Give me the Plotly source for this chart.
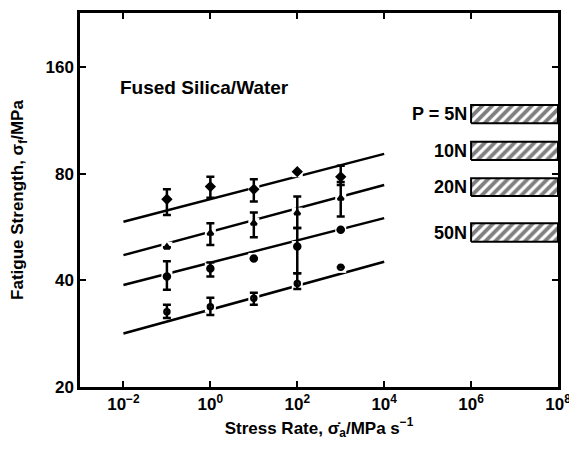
import math
import plotly.graph_objects as go

# ---------------- data ----------------
stress_rate = [0.1, 1, 10, 100, 1000]

s5_y = [67.7, 73.5, 72.2, 81.0, 78.3]
s5_plus = [4.5, 4.9, 4.9, None, 5.9]
s5_minus = [6.6, 5.1, 5.5, None, 4.0]

s10_y = [49.6, 54.3, 57.9, 61.9, 68.1]
s10_plus = [None, 3.6, 4.2, 7.0, 7.6]
s10_minus = [None, 4.0, 5.0, 5.7, 7.6]

s20_y = [41.0, 43.2, 46.1, 49.8, 55.5]
s20_plus = [4.3, 1.7, None, 6.4, None]
s20_minus = [3.4, 2.2, None, 7.9, None]

s50_y = [32.6, 33.7, 35.6, 39.2, 43.5]
s50_plus = [1.5, 2.0, 1.3, 2.7, None]
s50_minus = [1.3, 1.8, 1.5, 1.4, None]

fit_x = [1e-2, 1e4]
fit_5 = [58.5, 90.9]
fit_10 = [47.1, 74.3]
fit_20 = [38.8, 59.9]
fit_50 = [28.3, 45.1]

inert_x = [1e6, 1e8]
inert_labels = ["P = 5N", "10N", "20N", "50N"]
inert_low = [110.9, 87.4, 69.2, 51.4]
inert_high = [124.9, 98.4, 77.6, 57.9]

x_tickvals = [1e-2, 1e0, 1e2, 1e4, 1e6, 1e8]
x_ticktext = ["10<sup>−2</sup>", "10<sup>0</sup>", "10<sup>2</sup>",
              "10<sup>4</sup>", "10<sup>6</sup>", "10<sup>8</sup>"]
y_tickvals = [20, 40, 80, 160]
y_ticktext = ["20", "40", "80", "160"]

# ---------------- figure ----------------
FONT = "Liberation Sans"
fig = go.Figure()

fits = [fit_5, fit_10, fit_20, fit_50]
for f in fits:
    fig.add_trace(go.Scatter(x=fit_x, y=f, mode="lines",
                             line=dict(color="black", width=2.5),
                             showlegend=False, hoverinfo="skip"))

series = [
    (s5_y, s5_plus, s5_minus, "diamond", 6),
    (s10_y, s10_plus, s10_minus, "triangle-up", 5),
    (s20_y, s20_plus, s20_minus, "circle", 6),
    (s50_y, s50_plus, s50_minus, "circle-open", 5),
]

# white masks that break the fitted lines around data points
for ys, _, _, _, _ in series:
    fig.add_trace(go.Scatter(x=stress_rate, y=ys, mode="markers",
                             marker=dict(symbol="square", size=11, color="white"),
                             showlegend=False, hoverinfo="skip"))

for ys, plus, minus, sym, sz in series:
    fig.add_trace(go.Scatter(
        x=stress_rate, y=ys, mode="markers",
        marker=dict(symbol=sym, size=sz, color="black",
                    line=dict(color="black", width=2.5)),
        error_y=dict(type="data", symmetric=False, array=plus, arrayminus=minus,
                     color="black", thickness=2.5, width=4),
        showlegend=False))

# hatched inert-strength bars
for lo, hi, lab in zip(inert_low, inert_high, inert_labels):
    fig.add_trace(go.Scatter(
        x=[inert_x[0], inert_x[1], inert_x[1], inert_x[0], inert_x[0]],
        y=[lo, lo, hi, hi, lo], mode="lines", fill="toself",
        line=dict(color="black", width=2),
        fillcolor="white",
        fillpattern=dict(shape="/", fgcolor="black", bgcolor="white",
                         size=7, solidity=0.55),
        showlegend=False, hoverinfo="skip"))
    fig.add_annotation(x=math.log10(inert_x[0]) - 0.04,
                       y=math.log10(math.sqrt(lo * hi)),
                       text=lab, showarrow=False, xanchor="right", yanchor="middle",
                       font=dict(family=FONT, size=18, color="black", weight="bold"))

fig.add_annotation(x=-2.13, y=math.log10(139.5), text="Fused Silica/Water",
                   showarrow=False, xanchor="left", yanchor="middle",
                   font=dict(family=FONT, size=19, color="black", weight="bold"))

axis_common = dict(showline=True, linecolor="black", linewidth=2.5, mirror="ticks",
                   ticks="inside", ticklen=6, tickwidth=2, tickcolor="black",
                   showgrid=False, zeroline=False, automargin=False,
                   tickfont=dict(family=FONT, size=17, color="black", weight="bold"))

fig.update_xaxes(type="log", range=[-3, 8], tickvals=x_tickvals, ticktext=x_ticktext,
                 title=dict(text="Stress Rate, σ̇<sub>a</sub>/MPa s<sup>−1</sup>",
                            font=dict(family=FONT, size=17, color="black", weight="bold"),
                            standoff=9),
                 **axis_common)
fig.update_yaxes(type="log", range=[math.log10(20), math.log10(227)],
                 tickvals=y_tickvals, ticktext=y_ticktext,
                 title=dict(text="Fatigue Strength, σ<sub>f</sub>/MPa",
                            font=dict(family=FONT, size=17, color="black", weight="bold"),
                            standoff=18),
                 **axis_common)

# page body has an 8px default margin: figure is sized/offset to fill the window
fig.update_layout(width=569, height=443,
                  margin=dict(l=72, r=19, t=5, b=64),
                  paper_bgcolor="white", plot_bgcolor="white",
                  showlegend=False)

fig.write_html("out.html")
